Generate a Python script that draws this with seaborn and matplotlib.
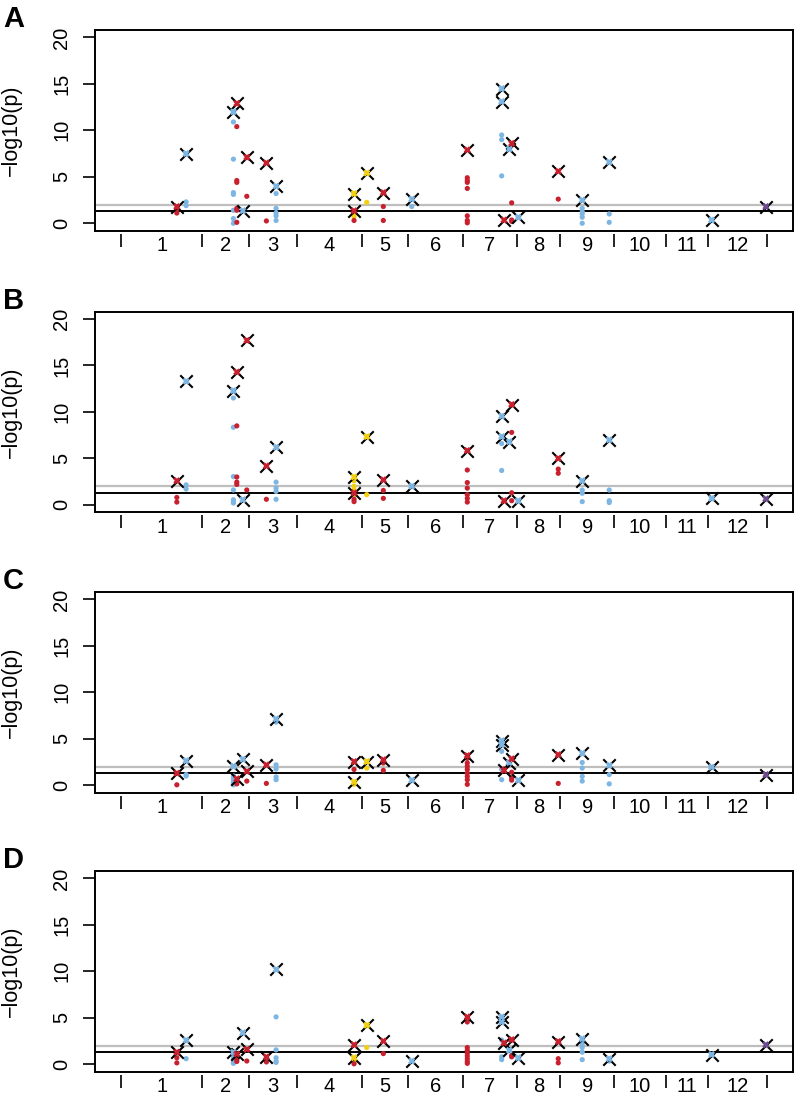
import numpy as np
import pandas as pd
import matplotlib
matplotlib.use("Agg")
import matplotlib.pyplot as plt
import seaborn as sns

# Chromosome sizes (genome position units) and labels
CHROM_LENGTHS = [81.6, 47.0, 47.4, 65.0, 46.6, 54.4, 54.0, 43.6, 54.0, 51.7, 42.3, 59.0]
CHROM_LABELS = [str(i) for i in range(1, 13)]

# Loci: cumulative genome position and trait group
LOCUS_POS = [56.0, 65.3, 112.6, 116.0, 122.0, 126.0, 145.6, 155.3, 233.3, 233.3,
             246.0, 262.6, 291.0, 346.6, 381.0, 381.0, 383.3, 388.6, 391.0, 397.6,
             437.6, 461.6, 488.6, 591.0, 645.3]
LOCUS_GROUP = ["red", "blue", "blue", "red", "blue", "red", "red", "blue", "yellow", "red",
               "yellow", "red", "blue", "red", "blue", "blue", "red", "blue", "red", "blue",
               "red", "blue", "blue", "blue", "purple"]

# Lead marker -log10(p) per locus, per panel
LEAD_A = [1.8, 7.5, 12.0, 12.9, 1.35, 7.1, 6.5, 4.0, 3.2, 1.35, 5.4, 3.3, 2.6, 7.9, 14.5,
          13.1, 0.35, 8.0, 8.6, 0.65, 5.6, 2.5, 6.6, 0.35, 1.8]
LEAD_B = [2.6, 13.3, 12.3, 14.3, 0.55, 17.7, 4.2, 6.2, 3.0, 1.3, 7.35, 2.7, 2.0, 5.85, 9.55,
          7.35, 0.45, 6.8, 10.8, 0.45, 5.0, 2.6, 7.0, 0.7, 0.65]
LEAD_C = [1.3, 2.65, 2.05, 0.7, 2.8, 1.5, 2.2, 7.15, 0.35, 2.55, 2.55, 2.75, 0.55, 3.2, 4.8,
          4.35, 1.6, 2.45, 2.85, 0.55, 3.3, 3.45, 2.15, 1.95, 1.15]
LEAD_D = [1.3, 2.6, 1.3, 1.1, 3.4, 1.6, 0.8, 10.2, 0.7, 2.1, 4.2, 2.5, 0.35, 5.1, 5.1,
          4.55, 2.3, 1.5, 2.65, 0.7, 2.45, 2.75, 0.6, 1.05, 2.1]

# Other markers at each locus
DOTS_A = [[1.5, 1.1], [2.3, 1.9], [10.9, 6.9, 3.3, 3.1, 1.4, 0.5, 0.0], [10.4, 4.6, 4.4, 1.6, 1.4, 0.1],
          [], [2.9], [0.25], [3.2, 1.6, 1.1, 0.8, 0.3], [1.0, 0.7], [0.3], [2.25], [1.8, 0.3], [1.8],
          [4.9, 4.6, 4.4, 3.75, 0.8, 0.3, 0.05], [9.5, 9.0, 5.1], [], [], [], [2.2, 0.35, 0.2], [],
          [2.6], [1.6, 1.25, 1.0, 0.65, 0.0], [1.0, 0.1], [], []]
DOTS_B = [[0.8, 0.3], [2.15, 1.7], [11.5, 8.35, 3.05, 1.6, 0.55, 0.3, 0.2], [8.5, 3.0, 2.45, 2.2],
          [], [1.6], [0.6], [2.45, 1.8, 1.45, 0.6], [2.6, 2.0, 1.6, 1.1], [0.6, 0.35], [1.1],
          [1.55, 0.7], [], [3.75, 2.4, 1.8, 1.1, 0.7, 0.3], [6.6, 3.7], [], [], [], [7.8, 1.3, 0.45],
          [], [3.85, 3.4], [1.6, 1.25, 0.35], [1.6, 0.45, 0.25], [], []]
DOTS_C = [[0.05], [1.15, 1.0], [1.0, 0.8, 0.6, 0.4, 0.2, 0.05], [0.45, 0.15], [], [0.45], [0.2],
          [6.8, 2.2, 1.75, 0.9, 0.6], [0.1], [1.7], [1.85], [2.4, 1.6], [],
          [2.9, 2.4, 2.05, 1.7, 1.3, 0.95, 0.6, 0.1], [3.65, 1.7, 0.6], [], [1.75], [],
          [1.4, 0.8, 0.55], [], [0.2], [2.45, 1.85, 0.95, 0.45], [1.15, 0.15], [], []]
DOTS_D = [[0.7, 0.15], [0.6], [0.95, 0.6, 0.25, 0.1], [0.8, 0.5, 0.3], [], [0.35], [0.25],
          [5.1, 1.55, 0.7, 0.35, 0.2], [0.35, 0.2], [0.05], [1.8], [1.15], [],
          [4.55, 1.8, 1.5, 1.2, 0.9, 0.6, 0.3, 0.1], [2.6, 0.8, 0.5], [], [], [], [0.95, 0.8], [],
          [0.6, 0.15], [2.2, 1.8, 1.3, 0.5], [0.35], [], []]

PANELS = [("A", LEAD_A, DOTS_A), ("B", LEAD_B, DOTS_B), ("C", LEAD_C, DOTS_C), ("D", LEAD_D, DOTS_D)]

PALETTE = {"red": "#C8202F", "blue": "#7DB6E3", "yellow": "#F2D00F", "purple": "#6C4A8E"}

sns.set_style("white")
plt.rcParams["font.family"] = ["Liberation Sans", "DejaVu Sans"]
plt.rcParams["text.color"] = "black"
plt.rcParams["axes.labelcolor"] = "black"
plt.rcParams["xtick.color"] = "black"
plt.rcParams["ytick.color"] = "black"

bounds = np.concatenate([[0], np.cumsum(CHROM_LENGTHS)])
mids = (bounds[:-1] + bounds[1:]) / 2
span = bounds[-1] - bounds[0]

fig = plt.figure(figsize=(7.97, 10.99), dpi=100)
axes_bottom_px = [230.7, 512.3, 792.7, 1071.7]
W, H = 797, 1099


def draw_panel(ax, letter, leads, dots):
    lead_df = pd.DataFrame({"pos": LOCUS_POS, "logp": leads, "group": LOCUS_GROUP})
    rows = []
    for pos, grp, vals in zip(LOCUS_POS, LOCUS_GROUP, dots):
        for v in vals:
            rows.append({"pos": pos, "logp": v, "group": grp})
    dot_df = pd.DataFrame(rows)

    ax.axhline(2, color="#BEBEBE", lw=1.6, zorder=1)
    ax.axhline(-np.log10(0.05), color="black", lw=1.4, zorder=1)

    sns.scatterplot(data=dot_df, x="pos", y="logp", hue="group", palette=PALETTE,
                    s=14, linewidth=0, legend=False, ax=ax, zorder=3)
    sns.scatterplot(data=lead_df, x="pos", y="logp", color="black", marker="x",
                    s=80, linewidth=1.5, legend=False, ax=ax, zorder=4)
    sns.scatterplot(data=lead_df, x="pos", y="logp", hue="group", palette=PALETTE, marker="x",
                    s=14, linewidth=2.0, legend=False, ax=ax, zorder=5)

    ax.set_xlim(bounds[0] - 0.04 * span, bounds[-1] + 0.04 * span)
    ax.set_ylim(-0.8, 20.8)
    ax.set_xticks([])
    ax.set_xlabel("")
    ax.set_yticks([0, 5, 10, 15, 20])
    ax.tick_params(axis="y", length=9, width=1.2, pad=8, labelsize=14.5, labelrotation=90,
                   left=True, direction="out", colors="black")
    for lab in ax.get_yticklabels():
        lab.set_va("center")
    ax.set_ylabel("\u2212log10(p)", fontsize=15.5)
    ax.yaxis.set_label_coords(-0.105, 0.5)
    for sp in ax.spines.values():
        sp.set_visible(True)
        sp.set_color("black")
        sp.set_linewidth(1.4)

    sec = ax.secondary_xaxis(-0.015)
    sec.set_xticks(bounds, labels=[""] * len(bounds))
    sec.set_xticks(mids, labels=CHROM_LABELS, minor=True)
    sec.spines["bottom"].set_visible(False)
    sec.tick_params(axis="x", which="major", length=9, width=1.2, direction="out", colors="black")
    sec.tick_params(axis="x", which="minor", length=0, pad=2, labelsize=14.5, colors="black")


for (letter, leads, dots), bot in zip(PANELS, axes_bottom_px):
    ax = fig.add_axes([95 / W, 1 - bot / H, 698 / W, 200.7 / H])
    draw_panel(ax, letter, leads, dots)
    fig.text(3 / W, 1 - (bot - 203.5) / H, letter, fontsize=21, fontweight="bold",
             ha="left", va="baseline")

fig.savefig("out.png", dpi=100)
